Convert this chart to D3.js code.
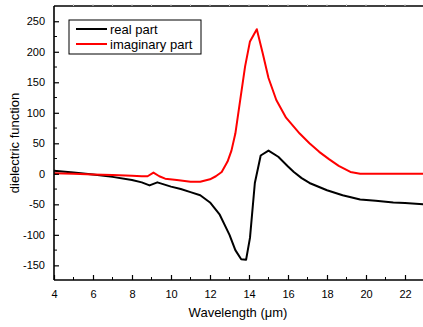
<!DOCTYPE html>
<html>
<head>
<meta charset="utf-8">
<script src="https://cdn.jsdelivr.net/npm/d3@7"></script>
<style>
  body { margin: 0; background: #fff; }
  text { font-family: "Liberation Sans", Arial, sans-serif; }
</style>
</head>
<body>
<script>
// wavelength (um) and dielectric function values
const realX = [4, 5, 6, 7, 8, 8.5, 8.9, 9.3, 10, 10.5, 11, 11.5, 12, 12.5, 13, 13.3, 13.6, 13.85, 14.05, 14.3, 14.6, 15.0, 15.5, 16, 16.3, 16.7, 17.1, 18, 18.8, 19.7, 20.5, 21.4, 22, 23];
const realY = [5, 2, -1, -5, -10, -14, -19, -14, -21, -25, -30, -35, -47, -67, -100, -125, -140, -141, -105, -15, 30, 38, 28, 12, 3, -7, -15, -27, -35, -42, -44, -47, -48, -50];

const imagX = [4, 5, 6, 7, 8, 8.5, 8.8, 9.1, 9.4, 9.7, 10.3, 11, 11.5, 12, 12.3, 12.6, 12.9, 13.1, 13.3, 13.55, 13.8, 14.05, 14.4, 14.7, 15, 15.4, 15.9, 16.6, 17.1, 17.6, 18.1, 18.6, 19.2, 19.7, 23];
const imagY = [1, 0, -1, -2, -3, -4, -4, 2, -4, -8, -10, -13, -13, -9, -4, 3, 20, 38, 66, 121, 176, 217, 237, 198, 157, 121, 92, 66, 50, 36, 24, 13, 3, 0, 0];

const xTicks = [4, 6, 8, 10, 12, 14, 16, 18, 20, 22];
const yTicks = [-150, -100, -50, 0, 50, 100, 150, 200, 250];
const seriesNames = ["real part", "imaginary part"];
const seriesColors = ["#000000", "#ff0000"];

const W = 423, H = 327;
const mLeft = 54, mTop = 6, mBottom = 280;

const svg = d3.select("body").append("svg")
  .attr("width", W)
  .attr("height", H);

const x = d3.scaleLinear().domain([4, 23]).range([mLeft, 424.5]);
const y = d3.scaleLinear().domain([-174, 275]).range([mBottom, mTop]);

// data lines
const line = d3.line().x(d => x(d[0])).y(d => y(d[1]));
const series = [d3.zip(realX, realY), d3.zip(imagX, imagY)];

svg.append("g")
  .selectAll("path")
  .data(series)
  .enter()
  .append("path")
  .attr("d", line)
  .attr("fill", "none")
  .attr("stroke", (d, i) => seriesColors[i])
  .attr("stroke-width", 2)
  .attr("stroke-linejoin", "round");

// bottom axis, ticks pointing inward
const xAxis = svg.append("g")
  .attr("transform", `translate(0,${mBottom})`)
  .call(d3.axisBottom(x).tickValues(xTicks).tickSizeInner(-5).tickSizeOuter(0).tickPadding(10));
xAxis.append("g")
  .selectAll("line")
  .data(d3.range(5, 23, 2))
  .enter()
  .append("line")
  .attr("x1", d => x(d)).attr("x2", d => x(d))
  .attr("y1", 0).attr("y2", -3)
  .attr("stroke", "#000");

const yAxis = svg.append("g")
  .attr("transform", `translate(${mLeft},0)`)
  .call(d3.axisLeft(y).tickValues(yTicks).tickSizeInner(-5).tickSizeOuter(0).tickPadding(9));
yAxis.append("g")
  .selectAll("line")
  .data(d3.range(-125, 275, 50))
  .enter()
  .append("line")
  .attr("x1", 0).attr("x2", 3)
  .attr("y1", d => y(d)).attr("y2", d => y(d))
  .attr("stroke", "#000");

[xAxis, yAxis].forEach(g => {
  g.select(".domain").remove();
  g.selectAll(".tick line").attr("stroke-width", 1.2);
  g.selectAll(".tick text").attr("font-size", 11).attr("fill", "#000")
    .attr("font-family", "Liberation Sans, Arial, sans-serif");
});
yAxis.selectAll(".tick text").text(d => String(d));

// axis lines and top frame
svg.append("line").attr("x1", mLeft).attr("x2", W).attr("y1", mBottom).attr("y2", mBottom)
  .attr("stroke", "#000").attr("stroke-width", 1.6);
svg.append("line").attr("x1", mLeft).attr("x2", mLeft).attr("y1", mTop).attr("y2", mBottom)
  .attr("stroke", "#000").attr("stroke-width", 1.6);
svg.append("line").attr("x1", mLeft).attr("x2", W).attr("y1", mTop).attr("y2", mTop)
  .attr("stroke", "#000").attr("stroke-width", 1.4);
svg.append("g")
  .selectAll("line")
  .data(d3.range(5, 23, 1))
  .enter()
  .append("line")
  .attr("x1", d => x(d)).attr("x2", d => x(d))
  .attr("y1", mTop - 2).attr("y2", mTop)
  .attr("stroke", "#ccc");

// axis titles
svg.append("text")
  .attr("x", 238).attr("y", 317)
  .attr("text-anchor", "middle")
  .attr("font-size", 13)
  .text("Wavelength (μm)");

svg.append("text")
  .attr("transform", `translate(19,${(mTop + mBottom) / 2}) rotate(-90)`)
  .attr("text-anchor", "middle")
  .attr("font-size", 13)
  .text("dielectric function");

// legend
const legend = svg.append("g").attr("transform", "translate(69,20)");
legend.append("rect")
  .attr("width", 132).attr("height", 34)
  .attr("fill", "#fff").attr("stroke", "#000").attr("stroke-width", 1);
const items = legend.selectAll("g.item")
  .data(seriesNames)
  .enter()
  .append("g")
  .attr("class", "item")
  .attr("transform", (d, i) => `translate(0,${9 + i * 15})`);
items.append("line")
  .attr("x1", 7).attr("x2", 38).attr("y1", 0).attr("y2", 0)
  .attr("stroke", (d, i) => seriesColors[i]).attr("stroke-width", 2);
items.append("text")
  .attr("x", 41).attr("y", 4.5)
  .attr("font-size", 13)
  .text(d => d);
</script>
</body>
</html>
